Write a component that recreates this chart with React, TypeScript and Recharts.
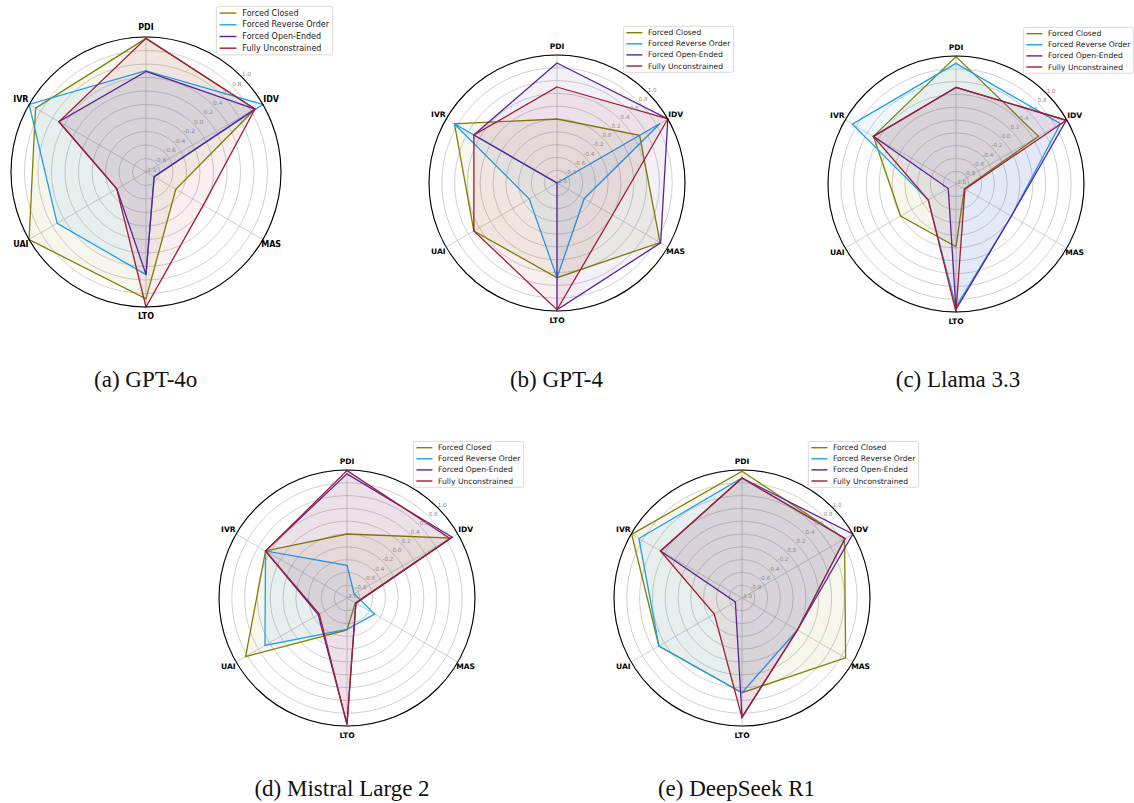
import React from 'react';
import { RadarChart, Radar, PolarGrid, PolarAngleAxis, PolarRadiusAxis } from 'recharts';

// ---------- data ----------
const dimensions = ['PDI', 'IDV', 'MAS', 'LTO', 'UAI', 'IVR'];
const radiusTicks = [-1.0, -0.8, -0.6, -0.4, -0.2, 0.0, 0.2, 0.4, 0.6, 0.8, 1.0];
const seriesNames = ['Forced Closed', 'Forced Reverse Order', 'Forced Open-Ended', 'Fully Unconstrained'];
const seriesKeys = ['closed', 'reverse', 'open', 'free'];
const seriesColors = ['#808000', '#1f9fef', '#55249e', '#a51c30'];

// (a) GPT-4o
const gpt4oClosed = [0.98, 0.865, -0.49, 0.88, 1.0, 0.89];
const gpt4oReverse = [0.5, 1.0, -0.86, 0.52, 0.52, 1.0];
const gpt4oOpen = [0.49, 0.865, -0.86, 0.52, -0.5, 0.49];
const gpt4oFree = [0.98, 0.865, -0.02, 1.0, -0.5, 0.49];

// (b) GPT-4
const gpt4Closed = [0.0, 0.49, 0.86, 0.48, 0.5, 0.85];
const gpt4Reverse = [-1.0, 0.86, -0.51, 0.48, -0.5, 0.86];
const gpt4Open = [0.875, 1.0, 0.87, 0.98, -1.0, 0.5];
const gpt4Free = [0.5, 1.0, 0.0, 0.98, 0.5, 0.5];

// (c) Llama 3.3
const llamaClosed = [0.99, 0.49, -0.85, -0.02, 0.0, 0.49];
const llamaReverse = [0.885, 0.885, 0.0, 0.92, -0.5, 0.87];
const llamaOpen = [0.51, 0.99, 0.0, 0.96, -0.86, 0.49];
const llamaFree = [0.51, 0.99, -0.84, 1.0, -0.5, 0.49];

// (d) Mistral Large 2
const mistralClosed = [0.0, 0.87, -0.85, -0.5, 0.83, 0.47];
const mistralReverse = [-0.49, -0.87, -0.5, -0.51, 0.48, 0.47];
const mistralOpen = [0.94, 0.9, -0.84, 0.97, -0.48, 0.47];
const mistralFree = [0.99, 0.86, -0.84, 0.98, -0.5, 0.47];

// (e) DeepSeek R1
const deepseekClosed = [0.98, 0.85, 0.87, 0.48, 0.5, 0.99];
const deepseekReverse = [0.875, 0.86, 0.0, 0.48, 0.5, 0.86];
const deepseekOpen = [0.875, 1.0, 0.0, 0.86, -0.88, 0.47];
const deepseekFree = [0.875, 0.86, 0.0, 0.87, -0.5, 0.47];

const captions = ['(a) GPT-4o', '(b) GPT-4', '(c) Llama 3.3', '(d) Mistral Large 2', '(e) DeepSeek R1'];
const panelSeries = [
  [gpt4oClosed, gpt4oReverse, gpt4oOpen, gpt4oFree],
  [gpt4Closed, gpt4Reverse, gpt4Open, gpt4Free],
  [llamaClosed, llamaReverse, llamaOpen, llamaFree],
  [mistralClosed, mistralReverse, mistralOpen, mistralFree],
  [deepseekClosed, deepseekReverse, deepseekOpen, deepseekFree],
];

// ---------- layout ----------
const layouts = [
  { cx: 145.7, cy: 171.7, R: 135, capX: 145.7, capBase: 387 },
  { cx: 556.7, cy: 183.3, R: 128, capX: 556.5, capBase: 387 },
  { cx: 956.0, cy: 184.0, R: 128, capX: 958.0, capBase: 387 },
  { cx: 346.7, cy: 598.3, R: 128, capX: 342.0, capBase: 796.7 },
  { cx: 741.7, cy: 598.3, R: 128, capX: 736.5, capBase: 796.7 },
];

function buildRows(series: number[][]) {
  return dimensions.map((d, i) => {
    const row: any = { axis: d };
    seriesKeys.forEach((k, j) => {
      row[k] = series[j][i];
    });
    return row;
  });
}

function Legend({ left, top, s }: { left: number; top: number; s: number }) {
  const w = 111 * s;
  const h = 46.7 * s;
  return (
    <svg
      style={{ position: 'absolute', left, top, overflow: 'visible' }}
      width={w}
      height={h}
    >
      <rect x={0.4} y={0.4} width={w - 0.8} height={h - 0.8} rx={2} ry={2} fill="rgba(255,255,255,0.85)" stroke="#d0d0d0" strokeWidth={0.8} />
      {seriesNames.map((name, i) => {
        const y = (6.7 + 11.1 * i) * s;
        return (
          <g key={name}>
            <line x1={3.4 * s} x2={19.4 * s} y1={y} y2={y} stroke={seriesColors[i]} strokeWidth={1.4} />
            <text
              x={25 * s}
              y={y}
              dominantBaseline="central"
              fontFamily='"DejaVu Sans", sans-serif'
              fontSize={7.6 * s}
              fill="#222"
            >
              {name}
            </text>
          </g>
        );
      })}
    </svg>
  );
}

function Panel({ idx }: { idx: number }) {
  const L = layouts[idx];
  const s = L.R / 128;
  const half = Math.ceil(L.R + 30);
  const rows = buildRows(panelSeries[idx]);
  const fontAxis = 7.6 * s;
  const fontTick = 5.6 * s;

  const angleTick = (p: any) => (
    <text
      x={p.x}
      y={p.y}
      textAnchor="middle"
      dominantBaseline="central"
      fontFamily='"DejaVu Sans", sans-serif'
      fontWeight="bold"
      fontSize={fontAxis}
      fill="#000"
    >
      {p.payload.value}
    </text>
  );

  const radiusTick = (p: any) => (
    <text
      x={p.x + 4.7 * s}
      y={p.y - 2.3 * s}
      textAnchor="middle"
      dominantBaseline="central"
      fontFamily='"DejaVu Sans", sans-serif'
      fontSize={fontTick}
      fill="#8c8c8c"
    >
      {Number(p.payload.value).toFixed(1)}
    </text>
  );

  return (
    <>
      <div style={{ position: 'absolute', left: L.cx - half, top: L.cy - half }}>
        <RadarChart
          width={half * 2}
          height={half * 2}
          data={rows}
          cx={half}
          cy={half}
          innerRadius={0}
          outerRadius={L.R}
          startAngle={90}
          endAngle={-270}
          margin={{ top: 0, right: 0, bottom: 0, left: 0 }}
        >
          <PolarGrid gridType="circle" stroke="#c4c4c4" strokeWidth={0.8} />
          <PolarAngleAxis
            dataKey="axis"
            axisLineType="circle"
            axisLine={{ stroke: '#000', strokeWidth: 1.1 }}
            stroke="#000"
            tickLine={false}
            tickSize={9 * s}
            tick={angleTick}
          />
          <PolarRadiusAxis
            type="number"
            domain={[-1, 1]}
            ticks={radiusTicks}
            angle={45}
            axisLine={false}
            tickLine={false}
            tick={radiusTick}
          />
          {seriesKeys.map((k, i) => (
            <Radar
              key={k}
              name={seriesNames[i]}
              dataKey={k}
              stroke={seriesColors[i]}
              strokeWidth={1.3}
              fill={seriesColors[i]}
              fillOpacity={0.07}
              dot={false}
              isAnimationActive={false}
            />
          ))}
        </RadarChart>
      </div>
      <Legend left={L.cx + 66.6 * s} top={L.cy - 157.3 * s} s={s} />
      <div
        style={{
          position: 'absolute',
          left: L.capX - 150,
          top: L.capBase - 19.3,
          width: 300,
          textAlign: 'center',
          fontFamily: '"Liberation Serif", "Times New Roman", serif',
          fontSize: 23,
          lineHeight: '23px',
          color: '#111',
          whiteSpace: 'nowrap',
        }}
      >
        {captions[idx]}
      </div>
    </>
  );
}

export default function App() {
  return (
    <div style={{ position: 'absolute', left: 0, top: 0, width: 1134, height: 803, background: '#fff', overflow: 'hidden' }}>
      {layouts.map((_, i) => (
        <Panel key={i} idx={i} />
      ))}
    </div>
  );
}
